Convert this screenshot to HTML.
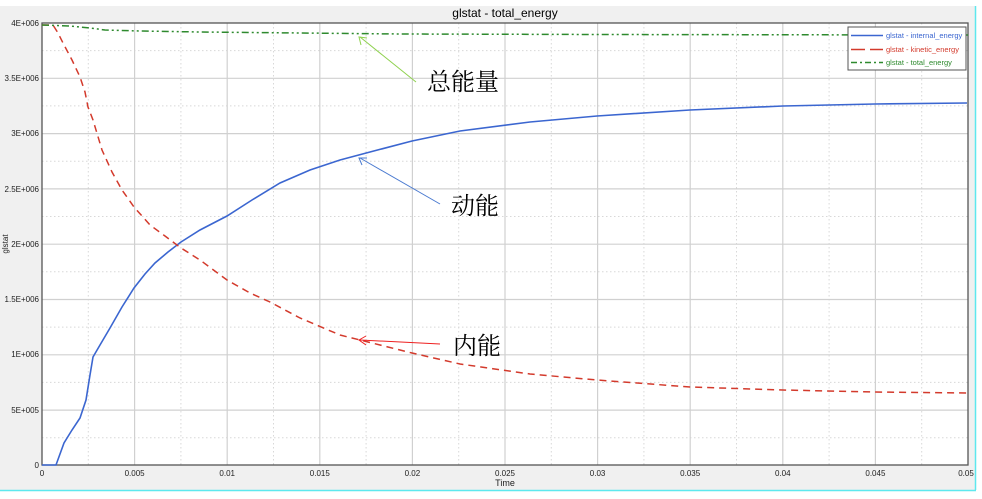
<!DOCTYPE html>
<html><head><meta charset="utf-8"><style>
html,body{margin:0;padding:0;background:#fff;}
svg{display:block;}
</style></head><body>
<svg width="982" height="499" xmlns="http://www.w3.org/2000/svg" font-family="Liberation Sans, sans-serif">
<rect x="0" y="6" width="975" height="484" fill="#f0f0f0"/>
<line x1="975.5" y1="6" x2="975.5" y2="490" stroke="#5ee8ee" stroke-width="1.5"/>
<line x1="0" y1="490.5" x2="976" y2="490.5" stroke="#5ee8ee" stroke-width="1.5"/>
<text x="505" y="17" font-size="12" text-anchor="middle" fill="#000">glstat - total_energy</text>
<rect x="42" y="23" width="926" height="442" fill="#fff"/>
<g id="grid">
<!-- minor vertical -->
<g stroke="#d8d8d8" stroke-dasharray="1.5,2.5" stroke-width="1">
<line x1="88.3" y1="23" x2="88.3" y2="465"/><line x1="180.9" y1="23" x2="180.9" y2="465"/><line x1="273.5" y1="23" x2="273.5" y2="465"/><line x1="366.1" y1="23" x2="366.1" y2="465"/><line x1="458.7" y1="23" x2="458.7" y2="465"/><line x1="551.3" y1="23" x2="551.3" y2="465"/><line x1="643.9" y1="23" x2="643.9" y2="465"/><line x1="736.5" y1="23" x2="736.5" y2="465"/><line x1="829.1" y1="23" x2="829.1" y2="465"/><line x1="921.7" y1="23" x2="921.7" y2="465"/>
<line x1="42" y1="50.6" x2="968" y2="50.6"/><line x1="42" y1="105.9" x2="968" y2="105.9"/><line x1="42" y1="161.2" x2="968" y2="161.2"/><line x1="42" y1="216.5" x2="968" y2="216.5"/><line x1="42" y1="271.8" x2="968" y2="271.8"/><line x1="42" y1="327.1" x2="968" y2="327.1"/><line x1="42" y1="382.4" x2="968" y2="382.4"/><line x1="42" y1="437.7" x2="968" y2="437.7"/>
</g>
<g stroke="#d0d0d0" stroke-width="1.2">
<line x1="134.6" y1="23" x2="134.6" y2="465"/><line x1="227.2" y1="23" x2="227.2" y2="465"/><line x1="319.8" y1="23" x2="319.8" y2="465"/><line x1="412.4" y1="23" x2="412.4" y2="465"/><line x1="505" y1="23" x2="505" y2="465"/><line x1="597.6" y1="23" x2="597.6" y2="465"/><line x1="690.2" y1="23" x2="690.2" y2="465"/><line x1="782.8" y1="23" x2="782.8" y2="465"/><line x1="875.4" y1="23" x2="875.4" y2="465"/>
<line x1="42" y1="78.3" x2="968" y2="78.3"/><line x1="42" y1="133.6" x2="968" y2="133.6"/><line x1="42" y1="188.9" x2="968" y2="188.9"/><line x1="42" y1="244.2" x2="968" y2="244.2"/><line x1="42" y1="299.5" x2="968" y2="299.5"/><line x1="42" y1="354.8" x2="968" y2="354.8"/><line x1="42" y1="410.1" x2="968" y2="410.1"/>
</g>
</g>
<rect x="42" y="23" width="926" height="442" fill="none" stroke="#555" stroke-width="1.3"/>
<g font-size="8" fill="#222" text-anchor="end">
<text x="39" y="26">4E+006</text><text x="39" y="81">3.5E+006</text><text x="39" y="136">3E+006</text><text x="39" y="192">2.5E+006</text><text x="39" y="247">2E+006</text><text x="39" y="302">1.5E+006</text><text x="39" y="357">1E+006</text><text x="39" y="413">5E+005</text><text x="39" y="468">0</text>
</g>
<g font-size="8" fill="#222" text-anchor="middle">
<text x="42" y="476">0</text><text x="134.6" y="476">0.005</text><text x="227.2" y="476">0.01</text><text x="319.8" y="476">0.015</text><text x="412.4" y="476">0.02</text><text x="505" y="476">0.025</text><text x="597.6" y="476">0.03</text><text x="690.2" y="476">0.035</text><text x="782.8" y="476">0.04</text><text x="875.4" y="476">0.045</text><text x="966" y="476">0.05</text>
<text x="505" y="486" font-size="9">Time</text>
</g>
<text x="8" y="244" font-size="8" fill="#222" text-anchor="middle" transform="rotate(-90 8 244)">glstat</text>
<!-- series -->
<polyline fill="none" stroke="#3b66d0" stroke-width="1.6" points="42,465 56,465 64,443 72,430 80,418 86,400 90,375 93,357 100,345 110,328 122,307 134,288 145,274 155,263 168,252 181,242 200,230 227,216 252,200 280,183 310,170 340,160 370,152 412,141 460,131 530,122 597,116 690,110 783,106 875,104 967,103"/>
<polyline fill="none" stroke="#d33a2c" stroke-width="1.5" stroke-dasharray="7,5" points="42,25 53,25 58,33 63,43 72,60 80,77 85,92 88,107 93,120 102,150 112,172 122,190 134,207 150,225 165,236 181,248 200,260 227,280 250,293 270,302 300,318 340,335 380,345 412,353 460,364 530,374 597,380 690,387 783,390 875,392 967,393"/>
<polyline fill="none" stroke="#2e8a2e" stroke-width="1.5" stroke-dasharray="7,3,2,3,2,3" points="42,25 70,26 90,28 105,30 140,31 200,32 300,33 400,34 600,34.5 968,35"/>
<!-- legend -->
<rect x="848" y="27" width="118" height="43" fill="#fff" stroke="#555" stroke-width="1"/>
<line x1="851" y1="35.5" x2="883" y2="35.5" stroke="#3b66d0" stroke-width="1.5"/>
<line x1="851" y1="49.5" x2="883" y2="49.5" stroke="#d33a2c" stroke-width="1.5" stroke-dasharray="14,5"/>
<line x1="851" y1="62.5" x2="883" y2="62.5" stroke="#2e8a2e" stroke-width="1.5" stroke-dasharray="6,3,2,3"/>
<g font-size="7.5">
<text x="886" y="38" fill="#3b66d0">glstat - internal_energy</text>
<text x="886" y="52" fill="#d33a2c">glstat - kinetic_energy</text>
<text x="886" y="65" fill="#2e8a2e">glstat - total_energy</text>
</g>
<!-- annotations -->
<g stroke-width="1" fill="none">
<line x1="416" y1="82" x2="360" y2="37" stroke="#8fd14f"/>
<polyline points="361,45 359,37 367,38" stroke="#8fd14f"/>
<line x1="440" y1="204" x2="360" y2="158" stroke="#4a7ad0"/>
<polyline points="362,165 359,158 367,158" stroke="#4a7ad0"/>
<line x1="440" y1="344" x2="360" y2="340" stroke="#ee2020"/>
<polyline points="366,336 359,340 366,345" stroke="#ee2020"/>
</g>
<g font-family="Liberation Serif, Noto Serif CJK SC, serif" font-size="24" fill="#000">
<text x="427" y="90">总能量</text>
<text x="451" y="214">动能</text>
<text x="453" y="354">内能</text>
</g>
</svg>
</body></html>
